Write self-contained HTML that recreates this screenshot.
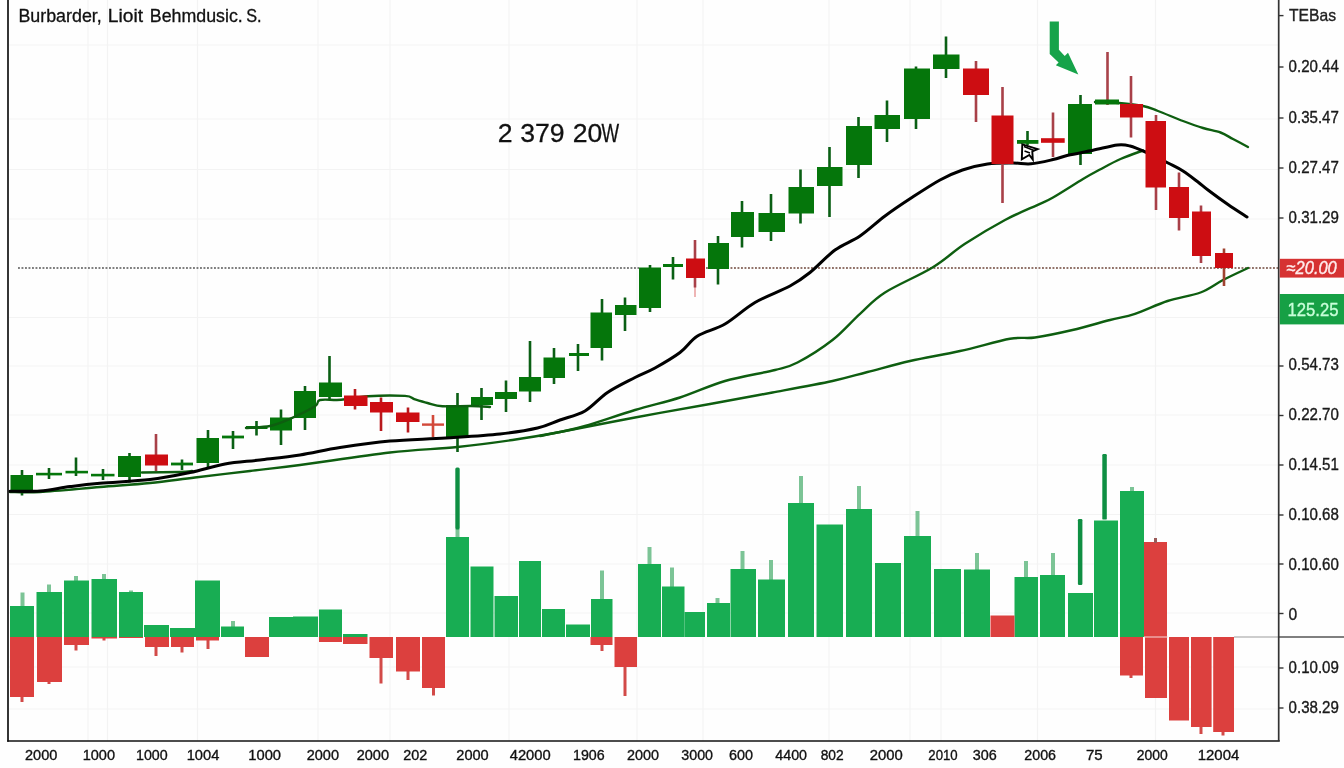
<!DOCTYPE html>
<html lang="en">
<head>
<meta charset="utf-8">
<title>Chart</title>
<style>
html,body{margin:0;padding:0;background:#fefefe;}
body{width:1344px;height:768px;overflow:hidden;font-family:"Liberation Sans",sans-serif;}
svg{display:block;}
</style>
</head>
<body>
<svg width="1344" height="768" viewBox="0 0 1344 768" shape-rendering="auto">
<g stroke="#f3f3f3" stroke-width="1.2" fill="none">
<line x1="88" y1="0" x2="88" y2="741"/>
<line x1="107.5" y1="0" x2="107.5" y2="741"/>
<line x1="197.5" y1="0" x2="197.5" y2="741"/>
<line x1="318" y1="0" x2="318" y2="741"/>
<line x1="390" y1="0" x2="390" y2="741"/>
<line x1="509" y1="0" x2="509" y2="741"/>
<line x1="637" y1="0" x2="637" y2="741"/>
<line x1="703" y1="0" x2="703" y2="741"/>
<line x1="829" y1="0" x2="829" y2="741"/>
<line x1="910" y1="0" x2="910" y2="741"/>
<line x1="941" y1="0" x2="941" y2="741"/>
<line x1="1037.5" y1="0" x2="1037.5" y2="741"/>
<line x1="1155.5" y1="0" x2="1155.5" y2="741"/>
<line x1="9" y1="45" x2="1279" y2="45"/>
<line x1="9" y1="119" x2="1279" y2="119"/>
<line x1="9" y1="169.5" x2="1279" y2="169.5"/>
<line x1="9" y1="219" x2="1279" y2="219"/>
<line x1="9" y1="317.5" x2="1279" y2="317.5"/>
<line x1="9" y1="366" x2="1279" y2="366"/>
<line x1="9" y1="415" x2="1279" y2="415"/>
<line x1="9" y1="465" x2="1279" y2="465"/>
<line x1="9" y1="514.5" x2="1279" y2="514.5"/>
<line x1="9" y1="564" x2="1279" y2="564"/>
<line x1="9" y1="613" x2="1279" y2="613"/>
<line x1="9" y1="667" x2="1279" y2="667"/>
<line x1="9" y1="709" x2="1279" y2="709"/>
</g>
<g>
<rect x="20.5" y="592.5" width="4" height="14.5" fill="#7cc496"/>
<rect x="10" y="606" width="24" height="31" fill="#18ad53"/>
<rect x="47" y="584.5" width="4" height="8.5" fill="#7cc496"/>
<rect x="36.5" y="592" width="25.5" height="45" fill="#18ad53"/>
<rect x="74" y="576" width="4" height="5.5" fill="#7cc496"/>
<rect x="64" y="580.5" width="25" height="56.5" fill="#18ad53"/>
<rect x="102" y="574" width="4" height="6" fill="#7cc496"/>
<rect x="91.5" y="579" width="25.5" height="58" fill="#18ad53"/>
<rect x="129" y="590.5" width="4" height="2.5" fill="#7cc496"/>
<rect x="119" y="592" width="24" height="45" fill="#18ad53"/>
<rect x="144" y="625" width="25" height="12" fill="#18ad53"/>
<rect x="170" y="628" width="25" height="9" fill="#18ad53"/>
<rect x="195" y="580.5" width="25" height="56.5" fill="#18ad53"/>
<rect x="231" y="621" width="4" height="6.5" fill="#7cc496"/>
<rect x="221" y="626.5" width="23" height="10.5" fill="#18ad53"/>
<rect x="269" y="617" width="24" height="20" fill="#18ad53"/>
<rect x="293" y="616.5" width="25" height="20.5" fill="#18ad53"/>
<rect x="319" y="609.5" width="23" height="27.5" fill="#18ad53"/>
<rect x="343" y="634" width="24.5" height="3" fill="#18ad53"/>
<rect x="455.5" y="529" width="4" height="9" fill="#7cc496"/>
<rect x="446" y="537" width="23" height="100" fill="#18ad53"/>
<rect x="470.5" y="566.5" width="23.0" height="70.5" fill="#18ad53"/>
<rect x="494.5" y="596" width="23.5" height="41" fill="#18ad53"/>
<rect x="519" y="561" width="22" height="76" fill="#18ad53"/>
<rect x="542" y="609" width="23" height="28" fill="#18ad53"/>
<rect x="566" y="624.5" width="24" height="12.5" fill="#18ad53"/>
<rect x="600" y="570.5" width="4" height="29.5" fill="#7cc496"/>
<rect x="591" y="599" width="21.5" height="38" fill="#18ad53"/>
<rect x="647.5" y="547" width="4" height="18" fill="#7cc496"/>
<rect x="638" y="564" width="23" height="73" fill="#18ad53"/>
<rect x="670" y="567.5" width="4" height="20.0" fill="#7cc496"/>
<rect x="662" y="586.5" width="22.5" height="50.5" fill="#18ad53"/>
<rect x="684.5" y="612" width="20.5" height="25" fill="#18ad53"/>
<rect x="715.5" y="598" width="4" height="6" fill="#7cc496"/>
<rect x="707" y="603" width="23" height="34" fill="#18ad53"/>
<rect x="740.5" y="551" width="4" height="19" fill="#7cc496"/>
<rect x="730.5" y="569" width="25.5" height="68" fill="#18ad53"/>
<rect x="769" y="560" width="4" height="20.5" fill="#7cc496"/>
<rect x="758" y="579.5" width="27" height="57.5" fill="#18ad53"/>
<rect x="799" y="476" width="4" height="28" fill="#7cc496"/>
<rect x="788" y="503" width="26" height="134" fill="#18ad53"/>
<rect x="816.5" y="524.5" width="26.5" height="112.5" fill="#18ad53"/>
<rect x="857" y="486" width="4" height="24" fill="#7cc496"/>
<rect x="846" y="509" width="26" height="128" fill="#18ad53"/>
<rect x="875" y="563" width="26" height="74" fill="#18ad53"/>
<rect x="915.5" y="511" width="4" height="26" fill="#7cc496"/>
<rect x="904" y="536" width="27" height="101" fill="#18ad53"/>
<rect x="934" y="569" width="27" height="68" fill="#18ad53"/>
<rect x="975" y="553" width="4" height="17.5" fill="#7cc496"/>
<rect x="964" y="569.5" width="26" height="67.5" fill="#18ad53"/>
<rect x="1024" y="561" width="4" height="17" fill="#7cc496"/>
<rect x="1014.5" y="577" width="23.5" height="60" fill="#18ad53"/>
<rect x="1051" y="553" width="4" height="23" fill="#7cc496"/>
<rect x="1040" y="575" width="25" height="62" fill="#18ad53"/>
<rect x="1068" y="593" width="25" height="44" fill="#18ad53"/>
<rect x="1094" y="520.5" width="24" height="116.5" fill="#18ad53"/>
<rect x="1130" y="487" width="4" height="5" fill="#7cc496"/>
<rect x="1120" y="491" width="24" height="146" fill="#18ad53"/>
<rect x="990.5" y="615.5" width="24.0" height="21.5" fill="#dc403e"/>
<rect x="1144" y="542" width="23" height="95" fill="#dc403e"/>
<rect x="20.5" y="696" width="3" height="6" fill="#d24a48"/>
<rect x="10" y="637" width="24" height="60" fill="#dc403e"/>
<rect x="47.5" y="681" width="3" height="3" fill="#d24a48"/>
<rect x="37" y="637" width="25" height="45" fill="#dc403e"/>
<rect x="74.5" y="644" width="3" height="6.5" fill="#d24a48"/>
<rect x="64" y="637" width="25" height="8" fill="#dc403e"/>
<rect x="102.5" y="637.5" width="3" height="3.0" fill="#d24a48"/>
<rect x="91.5" y="637" width="25.5" height="1.5" fill="#dc403e"/>
<rect x="119" y="637" width="24" height="1" fill="#dc403e"/>
<rect x="154.5" y="646" width="3" height="10" fill="#d24a48"/>
<rect x="145" y="637" width="24" height="10" fill="#dc403e"/>
<rect x="180.5" y="646" width="3" height="6.5" fill="#d24a48"/>
<rect x="171" y="637" width="23" height="10" fill="#dc403e"/>
<rect x="206.5" y="639.5" width="3" height="9.5" fill="#d24a48"/>
<rect x="196" y="637" width="23" height="3.5" fill="#dc403e"/>
<rect x="245" y="637" width="24" height="20" fill="#dc403e"/>
<rect x="319" y="637" width="23" height="5" fill="#dc403e"/>
<rect x="343" y="637" width="24.5" height="7" fill="#dc403e"/>
<rect x="379.5" y="657" width="3" height="26.5" fill="#d24a48"/>
<rect x="369.5" y="637" width="23.5" height="21" fill="#dc403e"/>
<rect x="406.5" y="670.5" width="3" height="9.5" fill="#d24a48"/>
<rect x="396" y="637" width="24" height="34.5" fill="#dc403e"/>
<rect x="432.0" y="687" width="3" height="8.5" fill="#d24a48"/>
<rect x="422" y="637" width="23" height="51" fill="#dc403e"/>
<rect x="600.5" y="644" width="3" height="7" fill="#d24a48"/>
<rect x="590.5" y="637" width="22.0" height="8" fill="#dc403e"/>
<rect x="623.5" y="666" width="3" height="30" fill="#d24a48"/>
<rect x="614.5" y="637" width="22.5" height="30" fill="#dc403e"/>
<rect x="1129.5" y="674.5" width="3" height="3.5" fill="#d24a48"/>
<rect x="1120" y="637" width="23" height="38.5" fill="#dc403e"/>
<rect x="1145" y="637" width="22" height="61" fill="#dc403e"/>
<rect x="1169" y="637" width="20" height="83.5" fill="#dc403e"/>
<rect x="1199.5" y="726" width="3" height="8" fill="#d24a48"/>
<rect x="1191" y="637" width="20.6" height="90" fill="#dc403e"/>
<rect x="1221.5" y="731" width="3" height="4.5" fill="#d24a48"/>
<rect x="1213.2" y="637" width="20.8" height="95" fill="#dc403e"/>
<rect x="455.3" y="467.5" width="4.4" height="62" rx="1.5" fill="#0f8f43"/>
<rect x="1077.9" y="519" width="4.5" height="66" rx="1.2" fill="#0f8f43"/>
<rect x="1102.3" y="454" width="4.5" height="65.6" rx="1.2" fill="#0f8f43"/>
<rect x="1154" y="538" width="3" height="5" fill="#9a5a58"/>
<line x1="1144" y1="637" x2="1168" y2="637" stroke="#f7dada" stroke-width="1"/>
</g>
<line x1="1234" y1="637" x2="1279" y2="637" stroke="#9c9c9c" stroke-width="1"/>
<line x1="1279" y1="637" x2="1344" y2="637" stroke="#555" stroke-width="1.6"/>
<path d="M18 267.9H639" stroke="#555" stroke-width="1.5" stroke-dasharray="1.9 1.6" fill="none"/>
<path d="M706 267.9H1279" stroke="#6e463a" stroke-width="1.5" stroke-dasharray="1.9 1.6" fill="none"/>
<g>
<rect x="20.7" y="470" width="2.6" height="25.5" fill="#0a5f14"/>
<rect x="10.5" y="475" width="22.5" height="15" fill="#05760b"/>
<rect x="47.7" y="468" width="2.6" height="11" fill="#0a5f14"/>
<rect x="36" y="472.8" width="26" height="2.6" fill="#05760b"/>
<rect x="74.7" y="457.5" width="2.6" height="18.5" fill="#0a5f14"/>
<rect x="65.5" y="470.8" width="22.5" height="2.6" fill="#05760b"/>
<rect x="101.7" y="469" width="2.6" height="11" fill="#0a5f14"/>
<rect x="91" y="473.8" width="23.5" height="2.6" fill="#05760b"/>
<rect x="128.2" y="453" width="2.6" height="29.5" fill="#0a5f14"/>
<rect x="118" y="456" width="23" height="21" fill="#05760b"/>
<rect x="180.7" y="459.5" width="2.6" height="10.5" fill="#0a5f14"/>
<rect x="171" y="462.6" width="22" height="2.8" fill="#05760b"/>
<rect x="206.7" y="430" width="2.6" height="37.5" fill="#0a5f14"/>
<rect x="196.5" y="438" width="22.5" height="25" fill="#05760b"/>
<rect x="231.7" y="431" width="2.6" height="18" fill="#0a5f14"/>
<rect x="222" y="435.6" width="22" height="2.8" fill="#05760b"/>
<rect x="255.2" y="421" width="2.6" height="14.5" fill="#0a5f14"/>
<rect x="246" y="426" width="21.5" height="3" fill="#05760b"/>
<rect x="279.7" y="409.5" width="2.6" height="35.5" fill="#0a5f14"/>
<rect x="270" y="417.5" width="22" height="13.0" fill="#05760b"/>
<rect x="303.7" y="386" width="2.6" height="44" fill="#0a5f14"/>
<rect x="294" y="391" width="22" height="27" fill="#05760b"/>
<rect x="328.2" y="356" width="2.6" height="44" fill="#0a5f14"/>
<rect x="319" y="382.5" width="23" height="14.5" fill="#05760b"/>
<rect x="456.2" y="393" width="2.6" height="59" fill="#0a5f14"/>
<rect x="446" y="405" width="22.5" height="32" fill="#05760b"/>
<rect x="480.2" y="388" width="2.6" height="32" fill="#0a5f14"/>
<rect x="471" y="397" width="22" height="8" fill="#05760b"/>
<rect x="504.7" y="380.5" width="2.6" height="31.5" fill="#0a5f14"/>
<rect x="495" y="392" width="22" height="7" fill="#05760b"/>
<rect x="528.7" y="341" width="2.6" height="61" fill="#0a5f14"/>
<rect x="519" y="377" width="22" height="14.5" fill="#05760b"/>
<rect x="552.7" y="348" width="2.6" height="36" fill="#0a5f14"/>
<rect x="543.5" y="357.5" width="21.5" height="20.5" fill="#05760b"/>
<rect x="576.7" y="344" width="2.6" height="27" fill="#0a5f14"/>
<rect x="569" y="353" width="20" height="3" fill="#05760b"/>
<rect x="600.7" y="299" width="2.6" height="61.5" fill="#0a5f14"/>
<rect x="590.5" y="312.5" width="21.5" height="35.5" fill="#05760b"/>
<rect x="623.7" y="297.5" width="2.6" height="33.5" fill="#0a5f14"/>
<rect x="615" y="305" width="21.5" height="10" fill="#05760b"/>
<rect x="648.7" y="265" width="2.6" height="47" fill="#0a5f14"/>
<rect x="639" y="267.5" width="22" height="40.5" fill="#05760b"/>
<rect x="671.7" y="257" width="2.6" height="22.5" fill="#0a5f14"/>
<rect x="663" y="264" width="20" height="3" fill="#05760b"/>
<rect x="716.7" y="236" width="2.6" height="48.5" fill="#0a5f14"/>
<rect x="708" y="243" width="21" height="26" fill="#05760b"/>
<rect x="740.7" y="201" width="2.6" height="46.5" fill="#0a5f14"/>
<rect x="731" y="212" width="23" height="25" fill="#05760b"/>
<rect x="769.7" y="194" width="2.6" height="47" fill="#0a5f14"/>
<rect x="758.5" y="213" width="26.5" height="19" fill="#05760b"/>
<rect x="799.2" y="169.5" width="2.6" height="54.0" fill="#0a5f14"/>
<rect x="788.5" y="187" width="25.5" height="26.5" fill="#05760b"/>
<rect x="828.2" y="147" width="2.6" height="70" fill="#0a5f14"/>
<rect x="817" y="167" width="25.5" height="19" fill="#05760b"/>
<rect x="857.2" y="117" width="2.6" height="61" fill="#0a5f14"/>
<rect x="846" y="126" width="26" height="39" fill="#05760b"/>
<rect x="885.7" y="100.5" width="2.6" height="41.5" fill="#0a5f14"/>
<rect x="874.5" y="115" width="25.5" height="14" fill="#05760b"/>
<rect x="914.7" y="66.5" width="2.6" height="62.5" fill="#0a5f14"/>
<rect x="904" y="68.5" width="26" height="50.5" fill="#05760b"/>
<rect x="944.7" y="36.5" width="2.6" height="41.5" fill="#0a5f14"/>
<rect x="933" y="54.5" width="26.5" height="14.5" fill="#05760b"/>
<rect x="1026.2" y="131" width="2.6" height="14" fill="#0a5f14"/>
<rect x="1017" y="140" width="21.4" height="3.8" fill="#05760b"/>
<rect x="1079.2" y="95" width="2.6" height="70" fill="#0a5f14"/>
<rect x="1068" y="104" width="24" height="50" fill="#05760b"/>
</g>
<g fill="none" stroke-linejoin="round" stroke-linecap="round">
<path d="M10.0 492.0 C15.0 492.0 25.0 492.8 40.0 492.0 C55.0 491.2 81.7 488.5 100.0 487.0 C118.3 485.5 134.2 484.6 150.0 483.0 C165.8 481.4 178.3 479.5 195.0 477.5 C211.7 475.5 232.5 473.1 250.0 471.0 C267.5 468.9 276.7 468.1 300.0 465.0 C323.3 461.9 363.8 455.5 390.0 452.5 C416.2 449.5 437.1 449.1 457.5 447.0 C477.9 444.9 495.4 442.5 512.5 440.0 C529.6 437.5 539.6 435.8 560.0 432.0 C580.4 428.2 610.0 422.2 635.0 417.5 C660.0 412.8 687.1 408.2 710.0 404.0 C732.9 399.8 752.1 396.3 772.5 392.5 C792.9 388.7 816.7 384.4 832.5 381.0 C848.3 377.6 854.6 375.3 867.5 372.0 C880.4 368.7 894.6 364.5 910.0 361.0 C925.4 357.5 943.3 354.7 960.0 351.0 C976.7 347.3 997.5 341.1 1010.0 338.8 C1022.5 336.6 1024.6 339.0 1035.0 337.5 C1045.4 336.0 1060.0 332.9 1072.5 330.0 C1085.0 327.1 1099.6 322.7 1110.0 320.0 C1120.4 317.3 1125.4 317.0 1135.0 313.8 C1144.6 310.6 1156.6 304.6 1167.5 301.0 C1178.4 297.4 1191.2 296.0 1200.5 292.5 C1209.8 289.0 1215.1 284.1 1223.0 280.0 C1230.9 275.9 1243.8 270.0 1248.0 268.0" stroke="#0e5e10" stroke-width="2.4"/>
<path d="M540.0 436.0 C543.3 435.3 552.5 433.7 560.0 432.0 C567.5 430.3 572.5 429.7 585.0 426.0 C597.5 422.3 619.2 414.8 635.0 410.0 C650.8 405.2 665.0 402.3 680.0 397.5 C695.0 392.7 709.2 385.6 725.0 381.0 C740.8 376.4 762.9 373.1 775.0 370.0 C787.1 366.9 787.9 367.5 797.5 362.5 C807.1 357.5 822.1 348.1 832.5 340.0 C842.9 331.9 851.2 321.7 860.0 313.8 C868.8 305.9 872.9 300.2 885.0 292.5 C897.1 284.8 919.2 275.6 932.5 267.5 C945.8 259.4 952.9 251.7 965.0 243.8 C977.1 235.9 992.5 226.7 1005.0 220.0 C1017.5 213.3 1032.0 207.6 1040.0 203.8 C1048.0 200.1 1045.8 201.6 1053.0 197.5 C1060.2 193.4 1075.2 183.7 1083.0 179.0 C1090.8 174.3 1093.8 172.8 1100.0 169.5 C1106.2 166.2 1113.3 162.2 1120.5 159.0 C1127.7 155.8 1139.2 151.9 1143.0 150.5" stroke="#0e5e10" stroke-width="2.4"/>
<path d="M142.0 472.5 C148.3 472.4 171.7 472.2 180.0 472.0 C188.3 471.8 190.0 471.2 192.0 471.0" stroke="#0e5e10" stroke-width="2.4"/>
<path d="M246.0 428.0 C250.0 427.7 262.7 427.5 270.0 426.0 C277.3 424.5 282.5 422.1 290.0 418.8 C297.5 415.5 310.0 409.3 315.0 406.2 C320.0 403.1 315.7 401.1 320.0 400.0 C324.3 398.9 333.0 400.4 341.0 399.8 C349.0 399.2 357.3 396.9 368.0 396.2 C378.7 395.5 397.2 395.4 405.0 395.9 C412.8 396.4 411.2 398.2 415.0 399.4 C418.8 400.6 422.9 401.9 427.5 403.0 C432.1 404.1 435.2 405.7 442.5 406.2 C449.8 406.7 463.1 405.9 471.0 406.0 C478.9 406.1 486.8 406.8 490.0 407.0" stroke="#0e5e10" stroke-width="2.4"/>
<path d="M1095.0 102.0 C1099.0 102.2 1111.0 102.3 1119.0 103.0 C1127.0 103.7 1136.5 104.7 1143.0 106.0 C1149.5 107.3 1151.3 108.5 1158.0 111.0 C1164.7 113.5 1175.5 118.2 1183.0 121.0 C1190.5 123.8 1196.8 126.1 1203.0 128.0 C1209.2 129.9 1215.5 130.7 1220.5 132.5 C1225.5 134.3 1228.4 136.6 1233.0 139.0 C1237.6 141.4 1245.5 145.7 1248.0 147.0" stroke="#0e5e10" stroke-width="2.4"/>
<path d="M10.0 491.2 C15.0 491.2 30.0 491.8 40.0 491.0 C50.0 490.2 60.0 487.9 70.0 486.6 C80.0 485.3 86.7 484.4 100.0 483.2 C113.3 482.0 135.0 481.4 150.0 479.6 C165.0 477.8 177.5 475.1 190.0 472.5 C202.5 469.9 213.3 466.1 225.0 464.0 C236.7 461.9 247.5 461.5 260.0 460.0 C272.5 458.5 286.7 457.1 300.0 455.0 C313.3 452.9 325.0 449.8 340.0 447.5 C355.0 445.2 372.3 442.6 390.0 441.0 C407.7 439.4 427.7 439.2 446.0 438.0 C464.3 436.8 484.8 435.7 500.0 434.0 C515.2 432.3 527.5 430.3 537.5 428.0 C547.5 425.7 552.1 422.8 560.0 420.0 C567.9 417.2 577.1 415.6 585.0 411.0 C592.9 406.4 599.2 398.1 607.5 392.5 C615.8 386.9 627.1 381.6 635.0 377.5 C642.9 373.4 647.5 372.2 655.0 368.0 C662.5 363.8 672.9 357.8 680.0 352.5 C687.1 347.2 690.0 340.8 697.5 336.0 C705.0 331.2 715.4 329.6 725.0 324.0 C734.6 318.4 744.2 308.8 755.0 302.5 C765.8 296.2 780.8 291.0 790.0 286.0 C799.2 281.0 802.5 278.5 810.0 272.5 C817.5 266.5 826.7 256.1 835.0 250.0 C843.3 243.9 851.7 241.7 860.0 236.0 C868.3 230.3 876.7 222.2 885.0 216.0 C893.3 209.8 900.8 204.8 910.0 198.8 C919.2 192.8 931.2 184.8 940.0 180.0 C948.8 175.2 954.6 172.7 962.5 170.0 C970.4 167.3 979.1 165.2 987.5 164.0 C995.9 162.8 1005.8 163.0 1013.0 163.0 C1020.2 163.0 1024.3 164.4 1031.0 163.8 C1037.7 163.2 1046.8 161.0 1053.0 159.6 C1059.2 158.2 1061.3 156.8 1068.0 155.2 C1074.7 153.6 1084.8 152.0 1093.0 150.3 C1101.2 148.6 1111.3 145.7 1117.5 145.0 C1123.7 144.3 1125.3 144.8 1130.0 146.0 C1134.7 147.2 1139.2 149.2 1145.5 152.0 C1151.8 154.8 1161.8 159.8 1168.0 163.0 C1174.2 166.2 1178.0 167.8 1183.0 171.0 C1188.0 174.2 1193.8 178.8 1198.0 182.0 C1202.2 185.2 1203.0 186.2 1208.0 190.0 C1213.0 193.8 1221.5 200.0 1228.0 204.5 C1234.5 209.0 1243.8 214.9 1247.0 217.0" stroke="#000" stroke-width="3.05"/>
</g>
<g>
<rect x="694" y="287" width="2" height="10" fill="#eeb5b5"/>
<rect x="154.7" y="434" width="2.6" height="37" fill="#a84048"/>
<rect x="145" y="454.5" width="23" height="11.0" fill="#cd0d12"/>
<rect x="353.7" y="389" width="2.6" height="20.5" fill="#b8191d"/>
<rect x="344" y="395.5" width="23.5" height="10.5" fill="#cd0d12"/>
<rect x="379.7" y="397.5" width="2.6" height="33.5" fill="#b8191d"/>
<rect x="370" y="402" width="23" height="10.5" fill="#cd0d12"/>
<rect x="406.7" y="407.5" width="2.6" height="25.0" fill="#b8191d"/>
<rect x="396" y="412.5" width="23.5" height="9.5" fill="#cd0d12"/>
<rect x="431.7" y="415" width="2.6" height="22" fill="#d2493a"/>
<rect x="422" y="423.4" width="22" height="2.4" fill="#d2493a"/>
<rect x="693.7" y="240" width="2.6" height="47.5" fill="#a84048"/>
<rect x="686" y="258.5" width="19" height="19.5" fill="#cd0d12"/>
<rect x="974.7" y="61" width="2.6" height="61" fill="#a84048"/>
<rect x="963" y="68.5" width="26" height="26.5" fill="#cd0d12"/>
<rect x="1001.2" y="87" width="2.6" height="116" fill="#a84048"/>
<rect x="991.5" y="115.5" width="22.0" height="48.5" fill="#cd0d12"/>
<rect x="1051.7" y="112.5" width="2.6" height="44.5" fill="#a84048"/>
<rect x="1041" y="138.2" width="23.7" height="4.6" fill="#cd0d12"/>
<rect x="1106.2" y="52" width="2.6" height="53" fill="#a8434a"/>
<rect x="1095" y="99.5" width="24" height="5.0" fill="#05760b"/>
<rect x="1129.7" y="76" width="2.6" height="61.5" fill="#a84048"/>
<rect x="1120" y="104" width="23" height="13.5" fill="#cd0d12"/>
<rect x="1154.7" y="115" width="2.6" height="95" fill="#a84048"/>
<rect x="1145.5" y="121" width="20.5" height="66.5" fill="#cd0d12"/>
<rect x="1177.7" y="172.5" width="2.6" height="58.0" fill="#a84048"/>
<rect x="1169" y="187" width="20" height="31" fill="#cd0d12"/>
<rect x="1199.7" y="205.5" width="2.6" height="57.5" fill="#a84048"/>
<rect x="1192" y="211.5" width="19" height="44.5" fill="#cd0d12"/>
<rect x="1222.7" y="248.5" width="2.6" height="37.5" fill="#a04230"/>
<rect x="1215" y="253" width="18" height="15" fill="#cd0d12"/>
</g>
<polygon points="1049.7,21.4 1058.9,21.4 1058.9,49.8 1064.7,55.9 1068,52.7 1078.3,74.5 1055.8,65.3 1058.6,62.5 1049.7,54" fill="#16a34a"/>
<polygon points="1022.3,144.4 1037.6,149.2 1032.3,151.3 1032.8,159.6 1029.3,155 1021.8,159.4" fill="#fff" stroke="#000" stroke-width="1.9" stroke-linejoin="miter"/>
<path d="M1024 146.5 L1034 150.5 M1024.5 151 L1030 153" stroke="#000" stroke-width="1.6" fill="none"/>
<line x1="8" y1="0" x2="8" y2="741.8" stroke="#111" stroke-width="1.7"/>
<line x1="7.2" y1="741" x2="1279.8" y2="741" stroke="#111" stroke-width="1.7"/>
<line x1="1278.7" y1="0" x2="1278.7" y2="741" stroke="#333" stroke-width="1.7"/>
<line x1="1279" y1="15.6" x2="1283.5" y2="15.6" stroke="#333" stroke-width="1.4"/>
<line x1="1279" y1="67" x2="1283.5" y2="67" stroke="#333" stroke-width="1.4"/>
<line x1="1279" y1="118" x2="1283.5" y2="118" stroke="#333" stroke-width="1.4"/>
<line x1="1279" y1="168" x2="1283.5" y2="168" stroke="#333" stroke-width="1.4"/>
<line x1="1279" y1="218" x2="1283.5" y2="218" stroke="#333" stroke-width="1.4"/>
<line x1="1279" y1="366" x2="1283.5" y2="366" stroke="#333" stroke-width="1.4"/>
<line x1="1279" y1="415.5" x2="1283.5" y2="415.5" stroke="#333" stroke-width="1.4"/>
<line x1="1279" y1="465" x2="1283.5" y2="465" stroke="#333" stroke-width="1.4"/>
<line x1="1279" y1="515" x2="1283.5" y2="515" stroke="#333" stroke-width="1.4"/>
<line x1="1279" y1="564" x2="1283.5" y2="564" stroke="#333" stroke-width="1.4"/>
<line x1="1279" y1="613.5" x2="1283.5" y2="613.5" stroke="#333" stroke-width="1.4"/>
<line x1="1279" y1="668" x2="1283.5" y2="668" stroke="#333" stroke-width="1.4"/>
<line x1="1279" y1="708" x2="1283.5" y2="708" stroke="#333" stroke-width="1.4"/>
<rect x="1279.8" y="258.8" width="64.2" height="18.8" fill="#d63232"/>
<rect x="1279.8" y="294" width="64.2" height="30.4" fill="#16a045"/>
<g font-family="'Liberation Sans', sans-serif">
<text y="22" font-size="17.5" fill="#111" stroke="#111" stroke-width="0.3"><tspan x="18.4" textLength="83.4" lengthAdjust="spacingAndGlyphs">Burbarder,</tspan> <tspan x="107.8" textLength="35.2" lengthAdjust="spacingAndGlyphs">Lioit</tspan> <tspan x="149.8" textLength="93" lengthAdjust="spacingAndGlyphs">Behmdusic.</tspan> <tspan x="246.2" textLength="15.4" lengthAdjust="spacingAndGlyphs">S.</tspan></text>
<text y="141.6" font-size="26.6" fill="#111" stroke="#111" stroke-width="0.3"><tspan x="497.8">2 </tspan><tspan x="520.2">379 </tspan><tspan x="572.8">20</tspan><tspan x="601.4" textLength="17.6" lengthAdjust="spacingAndGlyphs">W</tspan></text>
<text x="1289" y="21.0" font-size="16.5" fill="#222" stroke="#222" stroke-width="0.35"  textLength="47" lengthAdjust="spacingAndGlyphs">TEBas</text>
<text x="1288.6" y="72.0" font-size="15.6" fill="#1a1a1a" stroke="#1a1a1a" stroke-width="0.35"  textLength="50.3" lengthAdjust="spacingAndGlyphs">0.20.44</text>
<text x="1288.6" y="123.1" font-size="15.6" fill="#1a1a1a" stroke="#1a1a1a" stroke-width="0.35"  textLength="50.3" lengthAdjust="spacingAndGlyphs">0.35.47</text>
<text x="1288.6" y="173.1" font-size="15.6" fill="#1a1a1a" stroke="#1a1a1a" stroke-width="0.35"  textLength="50.3" lengthAdjust="spacingAndGlyphs">0.27.47</text>
<text x="1288.6" y="223.1" font-size="15.6" fill="#1a1a1a" stroke="#1a1a1a" stroke-width="0.35"  textLength="50.3" lengthAdjust="spacingAndGlyphs">0.31.29</text>
<text x="1288.6" y="369.6" font-size="15.6" fill="#1a1a1a" stroke="#1a1a1a" stroke-width="0.35"  textLength="50.3" lengthAdjust="spacingAndGlyphs">0.54.73</text>
<text x="1288.6" y="419.6" font-size="15.6" fill="#1a1a1a" stroke="#1a1a1a" stroke-width="0.35"  textLength="50.3" lengthAdjust="spacingAndGlyphs">0.22.70</text>
<text x="1288.6" y="469.6" font-size="15.6" fill="#1a1a1a" stroke="#1a1a1a" stroke-width="0.35"  textLength="50.3" lengthAdjust="spacingAndGlyphs">0.14.51</text>
<text x="1288.6" y="520.4" font-size="15.6" fill="#1a1a1a" stroke="#1a1a1a" stroke-width="0.35"  textLength="50.3" lengthAdjust="spacingAndGlyphs">0.10.68</text>
<text x="1288.6" y="569.6" font-size="15.6" fill="#1a1a1a" stroke="#1a1a1a" stroke-width="0.35"  textLength="50.3" lengthAdjust="spacingAndGlyphs">0.10.60</text>
<text x="1288.6" y="619.6" font-size="15.6" fill="#1a1a1a" stroke="#1a1a1a" stroke-width="0.35" >0</text>
<text x="1288.6" y="672.9" font-size="15.6" fill="#1a1a1a" stroke="#1a1a1a" stroke-width="0.35"  textLength="50.3" lengthAdjust="spacingAndGlyphs">0.10.09</text>
<text x="1288.6" y="713.4" font-size="15.6" fill="#1a1a1a" stroke="#1a1a1a" stroke-width="0.35"  textLength="50.3" lengthAdjust="spacingAndGlyphs">0.38.29</text>
<text x="1286.5" y="273.8" font-size="17.5" fill="#ffecec" stroke="#ffecec" stroke-width="0.35" font-style="italic" textLength="50.3" lengthAdjust="spacingAndGlyphs">≈20.00</text>
<text x="1287.5" y="316" font-size="18.5" fill="#c8ffd9" stroke="#c8ffd9" stroke-width="0.35"  textLength="51" lengthAdjust="spacingAndGlyphs">125.25</text>
<text x="25" y="759.8" font-size="14.6" fill="#111" stroke="#111" stroke-width="0.35"  textLength="32.3" lengthAdjust="spacingAndGlyphs">2000</text>
<text x="82.7" y="759.8" font-size="14.6" fill="#111" stroke="#111" stroke-width="0.35"  textLength="32.3" lengthAdjust="spacingAndGlyphs">1000</text>
<text x="136" y="759.8" font-size="14.6" fill="#111" stroke="#111" stroke-width="0.35"  textLength="31.7" lengthAdjust="spacingAndGlyphs">1000</text>
<text x="186.7" y="759.8" font-size="14.6" fill="#111" stroke="#111" stroke-width="0.35"  textLength="32.6" lengthAdjust="spacingAndGlyphs">1004</text>
<text x="248.3" y="759.8" font-size="14.6" fill="#111" stroke="#111" stroke-width="0.35"  textLength="32.7" lengthAdjust="spacingAndGlyphs">1000</text>
<text x="306.7" y="759.8" font-size="14.6" fill="#111" stroke="#111" stroke-width="0.35"  textLength="32.3" lengthAdjust="spacingAndGlyphs">2000</text>
<text x="356.7" y="759.8" font-size="14.6" fill="#111" stroke="#111" stroke-width="0.35"  textLength="32.3" lengthAdjust="spacingAndGlyphs">2000</text>
<text x="403.3" y="759.8" font-size="14.6" fill="#111" stroke="#111" stroke-width="0.35"  textLength="24.0" lengthAdjust="spacingAndGlyphs">202</text>
<text x="456.3" y="759.8" font-size="14.6" fill="#111" stroke="#111" stroke-width="0.35"  textLength="32.4" lengthAdjust="spacingAndGlyphs">2000</text>
<text x="509.7" y="759.8" font-size="14.6" fill="#111" stroke="#111" stroke-width="0.35"  textLength="41.0" lengthAdjust="spacingAndGlyphs">42000</text>
<text x="573" y="759.8" font-size="14.6" fill="#111" stroke="#111" stroke-width="0.35"  textLength="31.7" lengthAdjust="spacingAndGlyphs">1906</text>
<text x="627" y="759.8" font-size="14.6" fill="#111" stroke="#111" stroke-width="0.35"  textLength="32" lengthAdjust="spacingAndGlyphs">2000</text>
<text x="681.3" y="759.8" font-size="14.6" fill="#111" stroke="#111" stroke-width="0.35"  textLength="31.7" lengthAdjust="spacingAndGlyphs">3000</text>
<text x="729" y="759.8" font-size="14.6" fill="#111" stroke="#111" stroke-width="0.35"  textLength="24" lengthAdjust="spacingAndGlyphs">600</text>
<text x="775.3" y="759.8" font-size="14.6" fill="#111" stroke="#111" stroke-width="0.35"  textLength="31.7" lengthAdjust="spacingAndGlyphs">4400</text>
<text x="820.7" y="759.8" font-size="14.6" fill="#111" stroke="#111" stroke-width="0.35"  textLength="23.0" lengthAdjust="spacingAndGlyphs">802</text>
<text x="869.7" y="759.8" font-size="14.6" fill="#111" stroke="#111" stroke-width="0.35"  textLength="33.0" lengthAdjust="spacingAndGlyphs">2000</text>
<text x="928.3" y="759.8" font-size="14.6" fill="#111" stroke="#111" stroke-width="0.35"  textLength="29.4" lengthAdjust="spacingAndGlyphs">2010</text>
<text x="972.7" y="759.8" font-size="14.6" fill="#111" stroke="#111" stroke-width="0.35"  textLength="24.0" lengthAdjust="spacingAndGlyphs">306</text>
<text x="1024.3" y="759.8" font-size="14.6" fill="#111" stroke="#111" stroke-width="0.35"  textLength="31.7" lengthAdjust="spacingAndGlyphs">2006</text>
<text x="1086" y="759.8" font-size="14.6" fill="#111" stroke="#111" stroke-width="0.35"  textLength="16.7" lengthAdjust="spacingAndGlyphs">75</text>
<text x="1136.7" y="759.8" font-size="14.6" fill="#111" stroke="#111" stroke-width="0.35"  textLength="31.0" lengthAdjust="spacingAndGlyphs">2000</text>
<text x="1197.7" y="759.8" font-size="14.6" fill="#111" stroke="#111" stroke-width="0.35"  textLength="41.6" lengthAdjust="spacingAndGlyphs">12004</text>
</g>
</svg>
</body>
</html>
